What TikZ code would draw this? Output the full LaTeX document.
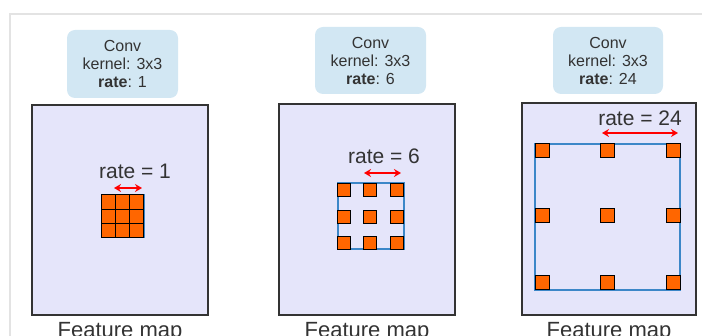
\documentclass[tikz,border=0pt]{standalone}
\usepackage{fontspec}
\setmainfont{Liberation Sans}
\usetikzlibrary{arrows.meta, positioning}

\definecolor{convblue}{HTML}{D2E7F3}
\definecolor{fmfill}{HTML}{E5E5FA}
\definecolor{fmline}{HTML}{333333}
\definecolor{kernorange}{HTML}{FF6600}
\definecolor{fieldblue}{HTML}{3C87C8}
\definecolor{framegray}{HTML}{E3E3E3}
\definecolor{textgray}{HTML}{333333}

\begin{document}
\begin{tikzpicture}[x=1pt, y=-1pt,
    conv/.style={fill=convblue, rounded corners=8pt, align=center, inner sep=0pt,
        text=textgray, font=\fontsize{16}{18}\selectfont},
    fmap/.style={draw=fmline, fill=fmfill, line width=1.6pt, inner sep=0pt},
    ratelbl/.style={text=textgray, font=\fontsize{21}{23}\selectfont},
    fmlbl/.style={text=textgray, font=\fontsize{22}{24}\selectfont, inner sep=1pt},
    cell/.style={draw=black, fill=kernorange, line width=1pt},
    span/.style={draw=red, line width=2pt, {Stealth[length=7pt,width=8pt]}-{Stealth[length=7pt,width=8pt]}},
    field/.style={draw=fieldblue, line width=2pt}]

    \useasboundingbox (0,0) rectangle (702,336);

    % outer frame
    \draw[framegray, line width=1.5pt] (10,336) -- (10,14) -- (702,14);

    % conv boxes
    \node[conv, minimum width=111pt, minimum height=68pt] (conv1) at (122.5,64) {Conv\\kernel: 3x3\\\textbf{rate}: 1};
    \node[conv, minimum width=111pt, minimum height=67pt] (conv2) at (370.5,60.5) {Conv\\kernel: 3x3\\\textbf{rate}: 6};
    \node[conv, minimum width=110pt, minimum height=67pt] (conv3) at (608,60.5) {Conv\\kernel: 3x3\\\textbf{rate}: 24};

    % feature maps
    \node[fmap, minimum width=176pt, minimum height=210pt] (fm1) at (120,210) {};
    \node[fmap, minimum width=176pt, minimum height=211pt] (fm2) at (367,209.5) {};
    \node[fmap, minimum width=174pt, minimum height=212pt] (fm3) at (609,209) {};

    \node[fmlbl, below=5pt of fm1] (lbl1) {Feature map};
    \node[fmlbl, below=5pt of fm2] (lbl2) {Feature map};
    \node[fmlbl, below=5pt of fm3] (lbl3) {Feature map};

    % rate = 1: dense kernel
    \draw[field, line width=1pt] (101,195) rectangle (144,238);
    \filldraw[cell] (101,195) rectangle ++(14.3,14.3);
    \filldraw[cell] (115.3,195) rectangle ++(14.3,14.3);
    \filldraw[cell] (129.6,195) rectangle ++(14.3,14.3);
    \filldraw[cell] (101,209.3) rectangle ++(14.3,14.3);
    \filldraw[cell] (115.3,209.3) rectangle ++(14.3,14.3);
    \filldraw[cell] (129.6,209.3) rectangle ++(14.3,14.3);
    \filldraw[cell] (101,223.6) rectangle ++(14.3,14.3);
    \filldraw[cell] (115.3,223.6) rectangle ++(14.3,14.3);
    \filldraw[cell] (129.6,223.6) rectangle ++(14.3,14.3);

    \node[ratelbl] (rate1) at (135,171) {rate = 1};
    \coordinate (s1l) at (114,188);
    \coordinate (s1r) at (142,188);
    \draw[span] (s1l) -- (s1r);

    % rate = 6
    \draw[field] (337.5,183.5) rectangle (403.5,249.5);
    \filldraw[cell] (337.5,183.5) rectangle ++(13,13);
    \filldraw[cell] (363.5,183.5) rectangle ++(13,13);
    \filldraw[cell] (390.5,183.5) rectangle ++(13,13);
    \filldraw[cell] (337.5,210.5) rectangle ++(13,13);
    \filldraw[cell] (363.5,210.5) rectangle ++(13,13);
    \filldraw[cell] (390.5,210.5) rectangle ++(13,13);
    \filldraw[cell] (337.5,236.5) rectangle ++(13,13);
    \filldraw[cell] (363.5,236.5) rectangle ++(13,13);
    \filldraw[cell] (390.5,236.5) rectangle ++(13,13);

    \node[ratelbl] (rate6) at (384,156) {rate = 6};
    \coordinate (s6l) at (364,173);
    \coordinate (s6r) at (401,173);
    \draw[span] (s6l) -- (s6r);

    % rate = 24
    \draw[field] (535,144) rectangle (680,290);
    \filldraw[cell] (535,144) rectangle ++(14,14);
    \filldraw[cell] (600,144) rectangle ++(14,14);
    \filldraw[cell] (666,144) rectangle ++(14,14);
    \filldraw[cell] (535,209) rectangle ++(14,14);
    \filldraw[cell] (600,209) rectangle ++(14,14);
    \filldraw[cell] (666,209) rectangle ++(14,14);
    \filldraw[cell] (535,276) rectangle ++(14,14);
    \filldraw[cell] (600,276) rectangle ++(14,14);
    \filldraw[cell] (666,276) rectangle ++(14,14);

    \node[ratelbl] (rate24) at (640,118) {rate = 24};
    \coordinate (s24l) at (602,133);
    \coordinate (s24r) at (678,133);
    \draw[span] (s24l) -- (s24r);
\end{tikzpicture}
\end{document}
